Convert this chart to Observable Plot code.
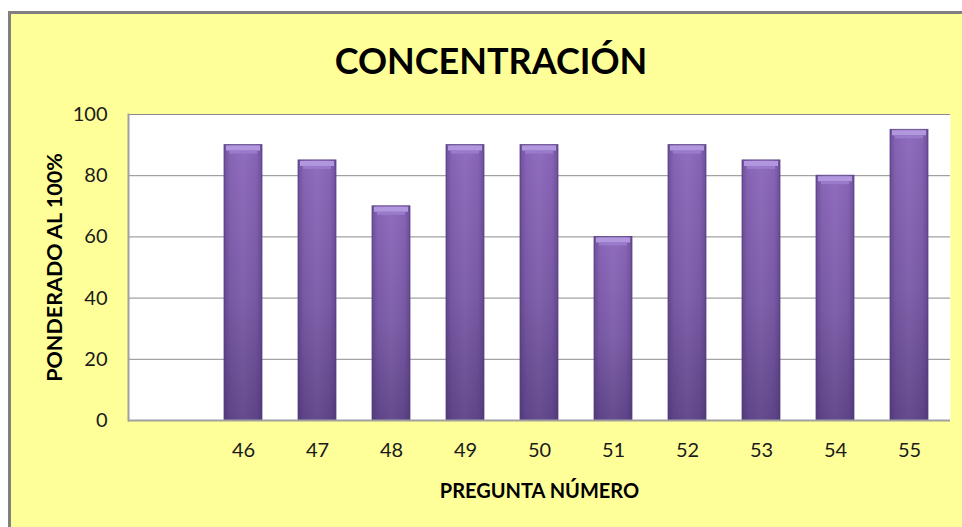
<!DOCTYPE html>
<html>
<head>
<meta charset="utf-8">
<script src="https://cdn.jsdelivr.net/npm/d3@7"></script>
<script src="https://cdn.jsdelivr.net/npm/@observablehq/plot@0.6"></script>
<style>
  html, body { margin: 0; padding: 0; background: #ffffff; width: 962px; height: 527px; overflow: hidden; }
  #frame { position: absolute; left: 8px; top: 11px; width: 954px; height: 516px; box-sizing: border-box;
           border-left: 3px solid #808080; border-top: 3px solid #808080; background: #FFFF99; }
  #title { position: absolute; left: 0; width: 982px; top: 35px; text-align: center;
           font-family: Lato, sans-serif; font-weight: 700; font-size: 36px; line-height: 50px; color: #000; }
  #chart { position: absolute; left: 0; top: 0; }
  #chart svg g[aria-label="x-axis label"] text { font-weight: 700; font-size: 20px; fill: #000; }
  #chart svg g[aria-label="y-axis label"] text { font-weight: 700; font-size: 21.5px; fill: #000; }
</style>
</head>
<body>
<div id="frame"></div>
<div id="title">CONCENTRACIÓN</div>
<div id="chart"></div>
<script>
const categories = ["46", "47", "48", "49", "50", "51", "52", "53", "54", "55"];
const values = [90, 85, 70, 90, 90, 60, 90, 85, 80, 95];
const yTicks = [0, 20, 40, 60, 80, 100];
const slots = [""].concat(categories);

const data = categories.map((q, i) => ({ q, v: values[i] }));

const chart = Plot.plot({
  width: 962,
  height: 527,
  marginLeft: 128,
  marginRight: 12,
  marginTop: 114,
  marginBottom: 107,
  style: { background: "transparent", fontFamily: "Lato, sans-serif", fontSize: "20px", color: "#1a1a1a" },
  x: {
    type: "band", domain: slots, paddingInner: 0.49, paddingOuter: 0.245,
    label: "PREGUNTA NÚMERO", labelAnchor: "center", labelOffset: 77, labelArrow: "none",
    tickSize: 0, tickPadding: 22
  },
  y: {
    domain: [0, 100], ticks: yTicks, tickSize: 0, tickPadding: 21,
    label: "PONDERADO AL 100%", labelAnchor: "center", labelOffset: 82, labelArrow: "none"
  },
  marks: [
    Plot.frame({ fill: "white", stroke: "none" }),
    Plot.ruleY(yTicks, { stroke: "#8c8c8c", strokeWidth: 1, strokeOpacity: 1 }),
    Plot.barY(data, { x: "q", y: "v", fill: "url(#barV)", stroke: "#5e4785", strokeWidth: 0.8 }),
    Plot.barY(data, { x: "q", y: "v", fill: "url(#barH)" }),
    Plot.tickY(data, { x: "q", y: "v", stroke: "#b197de", strokeWidth: 5, dy: 3, insetLeft: 2, insetRight: 2 }),
    Plot.tickY(data, { x: "q", y: "v", stroke: "#9a7bcb", strokeWidth: 3, dy: 7, insetLeft: 5, insetRight: 5 }),
    Plot.ruleY([0], { stroke: "#a0a0a0", strokeWidth: 2 }),
    Plot.frame({ anchor: "left", stroke: "#a0a0a0", strokeWidth: 2 })
  ]
});

const svg = d3.select(chart);
const defs = svg.insert("defs", ":first-child");
const gv = defs.append("linearGradient").attr("id", "barV").attr("x1", 0).attr("y1", 0).attr("x2", 0).attr("y2", 1);
gv.append("stop").attr("offset", "0%").attr("stop-color", "#8b67ba");
gv.append("stop").attr("offset", "55%").attr("stop-color", "#7a5aa6");
gv.append("stop").attr("offset", "100%").attr("stop-color", "#5f4589");
const gh = defs.append("linearGradient").attr("id", "barH").attr("x1", 0).attr("y1", 0).attr("x2", 1).attr("y2", 0);
gh.append("stop").attr("offset", "0%").attr("stop-color", "#3a2560").attr("stop-opacity", 0.35);
gh.append("stop").attr("offset", "15%").attr("stop-color", "#3a2560").attr("stop-opacity", 0.05);
gh.append("stop").attr("offset", "50%").attr("stop-color", "#ffffff").attr("stop-opacity", 0.04);
gh.append("stop").attr("offset", "85%").attr("stop-color", "#3a2560").attr("stop-opacity", 0.05);
gh.append("stop").attr("offset", "100%").attr("stop-color", "#3a2560").attr("stop-opacity", 0.35);

document.getElementById("chart").appendChild(chart);
</script>
</body>
</html>
